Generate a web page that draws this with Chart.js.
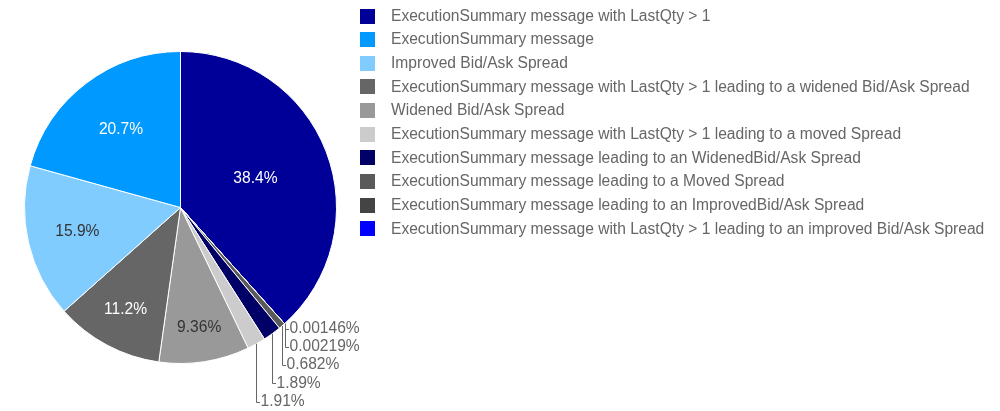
<!DOCTYPE html>
<html>
<head>
<meta charset="utf-8">
<script src="https://cdn.jsdelivr.net/npm/chart.js@4/dist/chart.umd.min.js"></script>
<style>
  html, body { margin: 0; padding: 0; background: #fff; }
  #wrap { width: 1000px; height: 411px; position: relative; }
</style>
</head>
<body>
<div id="wrap"><canvas id="c"></canvas></div>
<script>
// Slices in clockwise order, starting at twelve o'clock
const categories = [
  'ExecutionSummary message with LastQty > 1',
  'ExecutionSummary message with LastQty > 1 leading to an improved Bid/Ask Spread',
  'ExecutionSummary message leading to an ImprovedBid/Ask Spread',
  'ExecutionSummary message leading to a Moved Spread',
  'ExecutionSummary message leading to an WidenedBid/Ask Spread',
  'ExecutionSummary message with LastQty > 1 leading to a moved Spread',
  'Widened Bid/Ask Spread',
  'ExecutionSummary message with LastQty > 1 leading to a widened Bid/Ask Spread',
  'Improved Bid/Ask Spread',
  'ExecutionSummary message'
];
// Share of messages, in percent
const shares = [38.4, 0.00146, 0.00219, 0.682, 1.89, 1.91, 9.36, 11.2, 15.9, 20.7];

// Styling, kept apart from the data
const sliceColors = ['#000099', '#0000ff', '#444444', '#5a5a5a', '#000066',
                     '#cccccc', '#999999', '#666666', '#80ccff', '#0099ff'];
const insideTextColors = ['#ffffff', '#ffffff', '#ffffff', '#ffffff', '#ffffff',
                          '#333333', '#333333', '#ffffff', '#333333', '#ffffff'];
// distance of each inside label from the centre, as a fraction of the radius
const insideLabelRadius = [0.514, 0, 0, 0, 0, 0, 0.779, 0.746, 0.679, 0.63];

const FONT = '15.6px "Liberation Sans", Arial, sans-serif';
const OUTSIDE_LIMIT = 3;   // slices below this share get a leader-line label

const pieLabels = {
  id: 'pieLabels',
  afterDatasetsDraw(chart) {
    const ctx = chart.ctx;
    const arcs = chart.getDatasetMeta(0).data;
    ctx.save();
    ctx.font = FONT;
    ctx.textBaseline = 'middle';

    // labels inside the large slices
    ctx.textAlign = 'center';
    arcs.forEach((arc, i) => {
      if (shares[i] < OUTSIDE_LIMIT) return;
      const { x, y, startAngle, endAngle, outerRadius } = arc.getProps(
        ['x', 'y', 'startAngle', 'endAngle', 'outerRadius'], true);
      const mid = (startAngle + endAngle) / 2;
      const r = outerRadius * insideLabelRadius[i];
      ctx.fillStyle = insideTextColors[i];
      ctx.fillText(shares[i] + '%', x + Math.cos(mid) * r, y + Math.sin(mid) * r);
    });

    // stacked labels with elbow leader lines for the thin slices
    ctx.textAlign = 'left';
    ctx.strokeStyle = '#666666';
    ctx.lineWidth = 1;
    let prevY = -Infinity;
    arcs.forEach((arc, i) => {
      if (shares[i] >= OUTSIDE_LIMIT) return;
      const { x, y, startAngle, endAngle, outerRadius } = arc.getProps(
        ['x', 'y', 'startAngle', 'endAngle', 'outerRadius'], true);
      const mid = (startAngle + endAngle) / 2;
      const ex = x + Math.cos(mid) * outerRadius;
      const ey = y + Math.sin(mid) * outerRadius;
      const rowY = Math.max(ey + 5, prevY + 18.2);
      prevY = rowY;
      const lx = Math.round(ex) + 0.5;
      const ly = Math.round(rowY) + 0.5;
      ctx.beginPath();
      ctx.moveTo(lx, ey);
      ctx.lineTo(lx, ly);
      ctx.lineTo(lx + 3.5, ly);
      ctx.stroke();
      ctx.fillStyle = '#666666';
      ctx.fillText(shares[i] + '%', lx + 4, rowY);
    });

    // legend, largest share first
    const order = shares.map((v, i) => i).sort((a, b) => shares[b] - shares[a]);
    order.forEach((idx, row) => {
      const cy = 16 + row * 23.65;
      ctx.fillStyle = sliceColors[idx];
      ctx.fillRect(360, Math.round(cy - 7.5), 15, 15);
      ctx.fillStyle = '#666666';
      ctx.fillText(categories[idx], 391, cy + 0.5);
    });
    ctx.restore();
  }
};

new Chart(document.getElementById('c'), {
  type: 'pie',
  data: {
    labels: categories,
    datasets: [{
      data: shares,
      backgroundColor: sliceColors,
      borderColor: '#ffffff',
      borderWidth: 1,
      hoverOffset: 0
    }]
  },
  options: {
    responsive: true,
    maintainAspectRatio: false,
    animation: false,
    rotation: 0,
    layout: { padding: { left: 24, top: 51, right: 663, bottom: 47 } },
    plugins: {
      legend: { display: false },
      tooltip: { enabled: false }
    }
  },
  plugins: [pieLabels]
});
</script>
</body>
</html>
